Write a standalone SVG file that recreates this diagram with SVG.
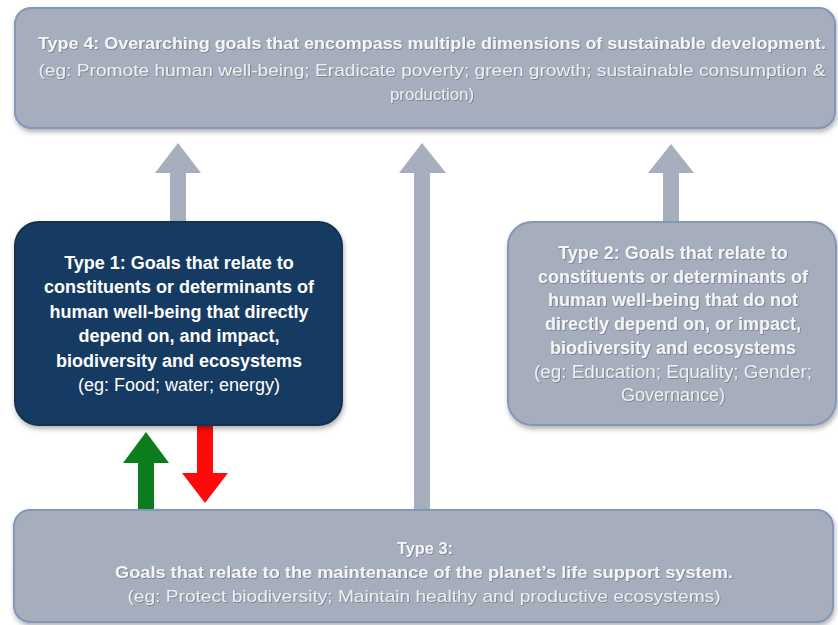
<svg xmlns="http://www.w3.org/2000/svg" width="838" height="625" viewBox="0 0 838 625">
<style>
.gbox{fill:#a6adbc;stroke:#8397b8;stroke-width:2}
.dbox{fill:#173a62;stroke:#12304f;stroke-width:2}
text{font-family:"Liberation Sans",Arial,sans-serif;text-anchor:middle}
.t{fill:#f4f5f8;font-weight:bold}
.e{fill:#eceff4}
.w{fill:#ffffff;font-weight:bold}
.we{fill:#ffffff}
.s17{font-size:17px}
.s18{font-size:18px}
.ga{fill:#a7aebd}
</style>
<defs>
<filter id="sh" x="-5%" y="-10%" width="110%" height="125%">
<feDropShadow dx="1" dy="3" stdDeviation="2.5" flood-color="#000" flood-opacity="0.3"/>
</filter>
<filter id="ts" x="-5%" y="-30%" width="110%" height="160%">
<feDropShadow dx="0.8" dy="0.8" stdDeviation="0.6" flood-color="#555" flood-opacity="0.6"/>
</filter>
</defs>
<rect width="838" height="625" fill="#ffffff"/>
<g id="connectors">
<path class="ga" d="M170,222 V173 H155 L178,143 L201,173 H186 V222 Z"/>
<path class="ga" d="M414,510 V173 H399 L422,143 L446,173 H430 V510 Z"/>
<path class="ga" d="M663,222 V173 H648 L671,144 L694,173 H679 V222 Z"/>
<path fill="#0b7d1c" d="M138,511 V463 H123 L146,432 L169,463 H154 V511 Z"/>
<path fill="#fe0a0a" d="M197,423 V473 H182 L205,503 L228,473 H213 V423 Z"/>
</g>
<g id="type4">
<rect class="gbox" x="15" y="8" width="820" height="120" rx="16" filter="url(#sh)"/>
<g filter="url(#ts)">
<text class="t s17" x="432" y="49" textLength="788" lengthAdjust="spacingAndGlyphs">Type 4: Overarching goals that encompass multiple dimensions of sustainable development.</text>
<text class="e s17" x="432" y="76" textLength="787" lengthAdjust="spacingAndGlyphs">(eg: Promote human well-being; Eradicate poverty; green growth; sustainable consumption &amp;</text>
<text class="e s17" x="432" y="100" textLength="84" lengthAdjust="spacingAndGlyphs">production)</text>
</g>
</g>
<g id="type1">
<rect class="dbox" x="15" y="222" width="327" height="203" rx="24" filter="url(#sh)"/>
<text class="w s18" x="179" y="269">Type 1: Goals that relate to</text>
<text class="w s18" x="179" y="293">constituents or determinants of</text>
<text class="w s18" x="179" y="318">human well-being that directly</text>
<text class="w s18" x="179" y="342">depend on, and impact,</text>
<text class="w s18" x="179" y="367">biodiversity and ecosystems</text>
<text class="we s18" x="179" y="391">(eg: Food; water; energy)</text>
</g>
<g id="type2">
<rect class="gbox" x="508" y="222" width="328" height="203" rx="24" filter="url(#sh)"/>
<g filter="url(#ts)">
<text class="t s18" x="673" y="259">Type 2: Goals that relate to</text>
<text class="t s18" x="673" y="283">constituents or determinants of</text>
<text class="t s18" x="673" y="306">human well-being that do not</text>
<text class="t s18" x="673" y="330">directly depend on, or impact,</text>
<text class="t s18" x="673" y="354">biodiversity and ecosystems</text>
<text class="e s18" x="673" y="378" textLength="278" lengthAdjust="spacingAndGlyphs">(eg: Education; Equality; Gender;</text>
<text class="e s18" x="673" y="401">Governance)</text>
</g>
</g>
<g id="type3">
<rect class="gbox" x="14" y="510" width="819" height="112" rx="16" filter="url(#sh)"/>
<g filter="url(#ts)">
<text class="t s17" x="425" y="554" textLength="56" lengthAdjust="spacingAndGlyphs">Type 3:</text>
<text class="t s17" x="424" y="578" textLength="618" lengthAdjust="spacingAndGlyphs">Goals that relate to the maintenance of the planet’s life support system.</text>
<text class="e s17" x="424" y="602" textLength="593" lengthAdjust="spacingAndGlyphs">(eg: Protect biodiversity; Maintain healthy and productive ecosystems)</text>
</g>
</g>
</svg>
